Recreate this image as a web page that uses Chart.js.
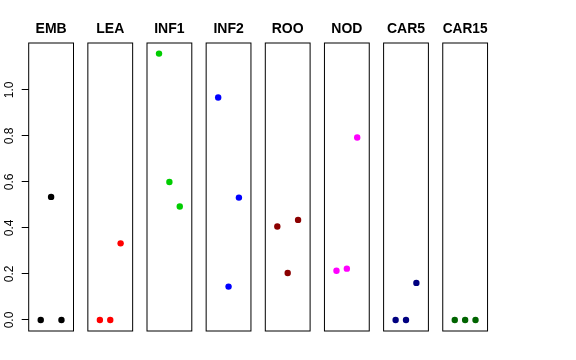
<!DOCTYPE html>
<html>
<head>
<meta charset="utf-8">
<script src="https://cdn.jsdelivr.net/npm/chart.js@4/dist/chart.umd.min.js"></script>
<style>
  html, body { margin: 0; padding: 0; background: #ffffff; }
  #wrap { position: relative; width: 576px; height: 360px; background: #ffffff; }
  #wrap canvas { position: absolute; left: 0; top: 0; }
</style>
</head>
<body>
<div id="wrap"></div>
<script>
// ---- data ----
const panelNames = ['EMB', 'LEA', 'INF1', 'INF2', 'ROO', 'NOD', 'CAR5', 'CAR15'];
const positions = [1, 2, 3];
const EMB   = [0, 0.535, 0];
const LEA   = [0, 0, 0.333];
const INF1  = [1.158, 0.600, 0.493];
const INF2  = [0.967, 0.145, 0.532];
const ROO   = [0.406, 0.204, 0.435];
const NOD   = [0.214, 0.223, 0.793];
const CAR5  = [0, 0, 0.161];
const CAR15 = [0, 0, 0];
const yTickValues = [0, 0.2, 0.4, 0.6, 0.8, 1.0];
const panelColors = ['#000000', '#FF0000', '#00CD00', '#0000FF', '#8B0000', '#FF00FF', '#000080', '#006400'];

const panelValues = [EMB, LEA, INF1, INF2, ROO, NOD, CAR5, CAR15];

// ---- layout ----
const W = 576, H = 360;
const firstLeft = 28.7, step = 59.15, boxW = 44.8;
const boxTop = 43, boxBottom = 331;
const yMin = -0.048, yMax = 1.204;
const xMin = -0.16, xMax = 4.16;
const FONT = 'Liberation Sans, Arial, Helvetica, sans-serif';

const boxPlugin = {
  id: 'panelBox',
  afterDraw(chart) {
    const a = chart.chartArea, ctx = chart.ctx;
    ctx.save();
    ctx.strokeStyle = '#000000';
    ctx.lineWidth = 1;
    ctx.strokeRect(a.left, a.top, a.right - a.left, a.bottom - a.top);
    ctx.restore();
  }
};

const wrap = document.getElementById('wrap');
panelNames.forEach((name, i) => {
  const canvas = document.createElement('canvas');
  canvas.width = W; canvas.height = H;
  canvas.style.width = W + 'px'; canvas.style.height = H + 'px';
  wrap.appendChild(canvas);

  const left = firstLeft + step * i;
  const right = left + boxW;
  const showY = i === 0;

  new Chart(canvas.getContext('2d'), {
    type: 'scatter',
    data: {
      datasets: [{
        data: positions.map((x, k) => ({ x: x, y: panelValues[i][k] })),
        backgroundColor: panelColors[i],
        borderColor: panelColors[i],
        pointRadius: 3.2,
        pointBorderWidth: 0,
        pointHoverRadius: 3.2
      }]
    },
    options: {
      responsive: false,
      devicePixelRatio: 1,
      animation: false,
      events: [],
      layout: {
        padding: { left: showY ? 0 : left, right: W - right, top: 21, bottom: H - boxBottom }
      },
      plugins: { legend: { display: false }, tooltip: { enabled: false }, title: { display: false } },
      scales: {
        x: {
          type: 'linear',
          position: 'top',
          min: xMin, max: xMax,
          grid: { display: false, drawTicks: false, tickLength: 0 },
          border: { display: false },
          ticks: { display: false },
          title: {
            display: true,
            text: name,
            color: '#000000',
            font: { family: FONT, size: 14, weight: 'bold', lineHeight: 1.2 },
            padding: { top: 0, bottom: 5.2 }
          }
        },
        y: {
          type: 'linear',
          position: 'left',
          min: yMin, max: yMax,
          display: showY,
          afterBuildTicks(scale) { scale.ticks = yTickValues.map(v => ({ value: v })); },
          afterFit(scale) { if (showY) scale.width = left; },
          grid: { display: true, drawOnChartArea: false, drawTicks: true, tickLength: 7, color: '#000000' },
          border: { display: false },
          ticks: {
            color: '#000000',
            font: { family: FONT, size: 12 },
            minRotation: 90, maxRotation: 90,
            crossAlign: 'center',
            padding: 4,
            callback: (v) => Number(v).toFixed(1)
          }
        }
      }
    },
    plugins: [boxPlugin]
  });
});
</script>
</body>
</html>
